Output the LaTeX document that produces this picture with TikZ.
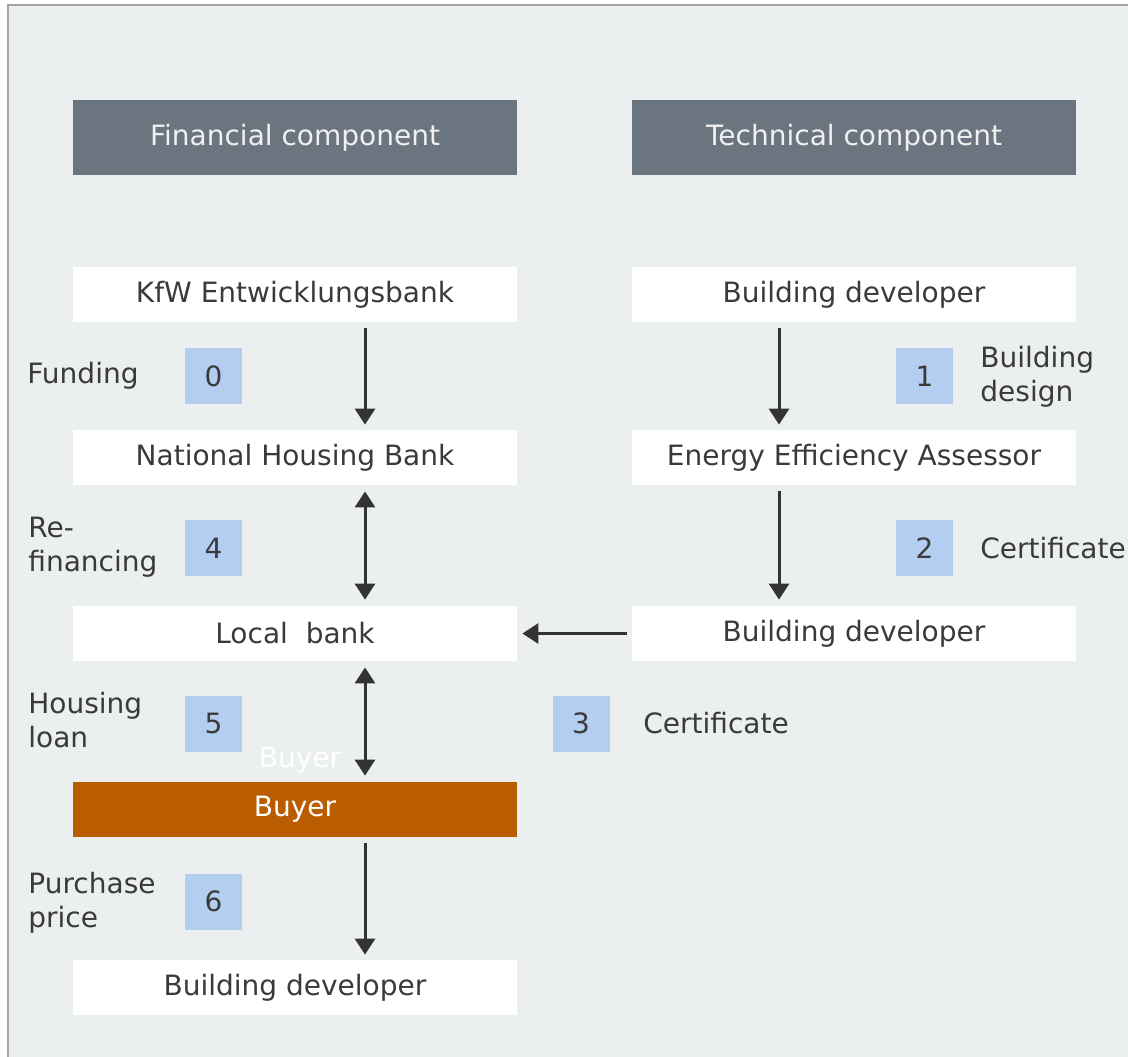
\documentclass[tikz,border=0pt]{standalone}
\usepackage{fontspec}
\setmainfont{DejaVu Sans}
\usetikzlibrary{arrows.meta}
\definecolor{panel}{HTML}{ECEFF0}
\definecolor{frame}{HTML}{A5A5A5}
\definecolor{headgray}{HTML}{6B7580}
\definecolor{stepblue}{HTML}{B4CEF1}
\definecolor{buyerorange}{HTML}{BA5C00}
\definecolor{ink}{HTML}{3A3A3A}
\definecolor{arrowink}{HTML}{333333}
\tikzset{
  base/.style={font=\fontsize{14}{17}\selectfont, text=ink},
  header/.style={base, rectangle, fill=headgray, text=white!94!black, minimum width=222pt, minimum height=37.5pt, inner sep=0pt},
  actor/.style={base, rectangle, fill=white, minimum width=222pt, minimum height=27.5pt, inner sep=0pt},
  buyerbox/.style={actor, fill=buyerorange, text=white},
  stepnum/.style={base, rectangle, fill=stepblue, minimum width=28.5pt, minimum height=28pt, inner sep=0pt},
  flowlabel/.style={base, anchor=west, align=left, inner sep=0pt},
  arr/.style={draw=arrowink, line width=1.5pt, -{Triangle[length=8pt,width=10pt]}},
  darr/.style={draw=arrowink, line width=1.5pt, {Triangle[length=8pt,width=10pt]}-{Triangle[length=8pt,width=10pt]}},
}
\begin{document}
\begin{tikzpicture}[x=0.5pt, y=-0.5pt]
\useasboundingbox (0,0) rectangle (1128,1056);
\fill[white] (0,0) rectangle (1128,1056);
\filldraw[fill=panel, draw=frame, line width=1.2pt] (8,5) rectangle (1140,1070);

% column headers
\node[header] (fin)  at (295,137.5) {Financial component};
\node[header] (tech) at (854,137.5) {Technical component};

% actors
\node[actor] (kfw) at (295,294.5) {KfW Entwicklungsbank};
\node[actor] (bd1) at (854,294.5) {Building developer};
\node[actor] (nhb) at (295,457.5) {National Housing Bank};
\node[actor] (eea) at (854,457.5) {Energy Efficiency Assessor};
\node[actor] (lb)  at (295,633.5) {Local\ \ bank};
\node[actor] (bd2) at (854,633.5) {Building developer};
\node[buyerbox] (buyer) at (295,809.5) {Buyer};
\node[actor] (bd3) at (295,987.5) {Building developer};
\node[base, text=white] (buyertag) at (300,760) {Buyer};

% arrow columns
\coordinate (lx) at (365,0);
\coordinate (rx) at (779,0);

% flows
\draw[arr]  ([yshift=-3pt]kfw.south -| lx) -- ([yshift=2.5pt]nhb.north -| lx);
\draw[darr] ([yshift=-3pt]nhb.south -| lx) -- ([yshift=3pt]lb.north -| lx);
\draw[darr] ([yshift=-3pt]lb.south -| lx) -- ([yshift=3pt]buyer.north -| lx);
\draw[arr]  ([yshift=-3pt]buyer.south -| lx) -- ([yshift=2.5pt]bd3.north -| lx);
\draw[arr]  ([yshift=-3pt]bd1.south -| rx) -- ([yshift=2.5pt]eea.north -| rx);
\draw[arr]  ([yshift=-3pt]eea.south -| rx) -- ([yshift=3pt]bd2.north -| rx);
\draw[arr]  ([xshift=-2.5pt]bd2.west) -- ([xshift=2.5pt]lb.east);

% step numbers
\node[stepnum] (s0) at (213.5,376)   {0};
\node[stepnum] (s4) at (213.5,548)   {4};
\node[stepnum] (s5) at (213.5,723.5) {5};
\node[stepnum] (s6) at (213.5,901.5) {6};
\node[stepnum] (s1) at (924.5,376)   {1};
\node[stepnum] (s2) at (924.5,548)   {2};
\node[stepnum] (s3) at (581,723.5)   {3};

% step descriptions
\node[flowlabel] (l0) at (27,376) {Funding};
\node[flowlabel] (l4) at (28,547) {Re-\\financing};
\node[flowlabel] (l5) at (28,720) {Housing\\loan};
\node[flowlabel] (l6) at (28,903) {Purchase\\price};
\node[flowlabel] (l1) at (980,377) {Building\\design};
\node[flowlabel] (l2) at (980,548) {Certificate};
\node[flowlabel] (l3) at (643,723) {Certificate};
\end{tikzpicture}
\end{document}
